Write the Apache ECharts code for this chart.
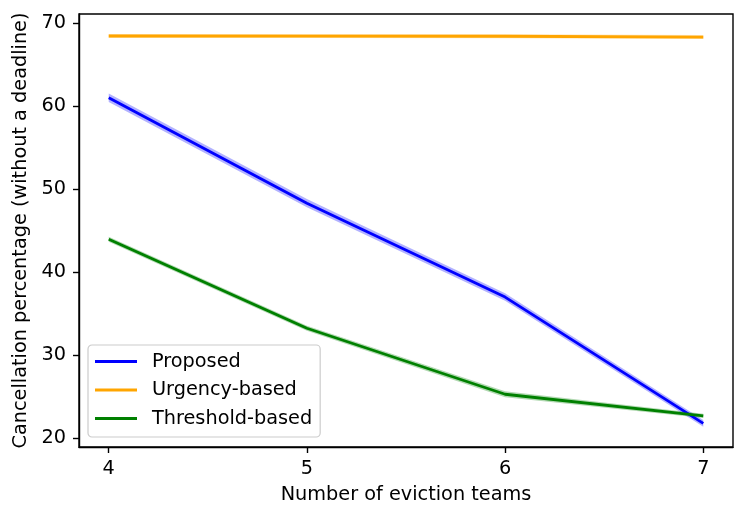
<!DOCTYPE html>
<html><head><meta charset="utf-8">
<script src="https://cdn.jsdelivr.net/npm/echarts@6/dist/echarts.min.js"></script>
<style>html,body{margin:0;padding:0;background:#fff}#c{width:747px;height:520px}</style>
</head><body><div id="c"></div>
<script>
const teams = [4, 5, 6, 7];
const proposed = [61.0, 48.3, 37.0, 21.8];
const proposedLow = [60.5, 47.8, 36.55, 21.4];
const proposedHigh = [61.5, 48.8, 37.45, 22.2];
const urgency = [68.43, 68.42, 68.40, 68.30];
const urgencyLow = [68.18, 68.18, 68.16, 68.06];
const urgencyHigh = [68.68, 68.66, 68.64, 68.54];
const threshold = [43.95, 33.25, 25.3, 22.7];
const thresholdLow = [43.65, 32.95, 24.95, 22.45];
const thresholdHigh = [44.25, 33.55, 25.65, 22.95];
const yTicks = [20, 30, 40, 50, 60, 70];
const xTicks = [4, 5, 6, 7];

const pairs = (ys) => teams.map((t, i) => [t, ys[i]]);

function band(name, lo, hi, color) {
  return {
    name: name, type: 'custom', silent: true, z: 1,
    data: [[teams[0], lo[0]]],
    renderItem: function (params, api) {
      const pts = [];
      for (let i = 0; i < teams.length; i++) pts.push(api.coord([teams[i], hi[i]]));
      for (let i = teams.length - 1; i >= 0; i--) pts.push(api.coord([teams[i], lo[i]]));
      return { type: 'polygon', shape: { points: pts }, style: { fill: color, opacity: 0.3 } };
    }
  };
}
function line(name, ys, color) {
  return { name: name, type: 'line', data: pairs(ys), symbol: 'none', color: color,
    lineStyle: { color: color, width: 2.8 }, z: 3 };
}

const font = 'DejaVu Sans';
const fs = 19.3;
const chart = echarts.init(document.getElementById('c'), null, { renderer: 'canvas' });
chart.setOption({
  animation: false,
  backgroundColor: '#fff',
  grid: { left: 79, top: 14, right: 14, bottom: 73, show: true, borderColor: '#000', borderWidth: 1.4, backgroundColor: 'transparent' },
  xAxis: {
    type: 'value', min: 3.85, max: 7.15,
    name: 'Number of eviction teams', nameLocation: 'middle', nameGap: 38,
    nameTextStyle: { fontFamily: font, fontSize: fs, color: '#000' },
    axisLine: { show: true, onZero: false, lineStyle: { color: '#000', width: 1.4 } },
    axisTick: { show: true, inside: false, length: 6, customValues: xTicks, lineStyle: { color: '#000', width: 1.4 } },
    axisLabel: { customValues: xTicks, fontFamily: font, fontSize: fs, color: '#000', margin: 12 },
    splitLine: { show: false }
  },
  yAxis: {
    type: 'value', min: 18.95, max: 71.08,
    name: 'Cancellation percentage (without a deadline)', nameLocation: 'middle', nameGap: 47,
    nameRotate: 90,
    nameTextStyle: { fontFamily: font, fontSize: fs, color: '#000' },
    axisLine: { show: true, onZero: false, lineStyle: { color: '#000', width: 1.4 } },
    axisTick: { show: true, inside: false, length: 6, customValues: yTicks, lineStyle: { color: '#000', width: 1.4 } },
    axisLabel: { customValues: yTicks, fontFamily: font, fontSize: fs, color: '#000', margin: 13 },
    splitLine: { show: false }
  },
  legend: {
    data: ['Proposed', 'Urgency-based', 'Threshold-based'],
    orient: 'vertical', left: 88, top: 345,
    icon: 'rect', itemWidth: 42, itemHeight: 3, itemGap: 7.5,
    padding: [6, 8, 8, 7],
    borderColor: '#cccccc', borderWidth: 1.2, borderRadius: 4,
    backgroundColor: 'rgba(255,255,255,0.8)',
    textStyle: { fontFamily: font, fontSize: fs, color: '#000', lineHeight: 21, padding: [0, 0, 0, 10] }
  },
  series: [
    band('p_band', proposedLow, proposedHigh, '#0000ff'),
    band('u_band', urgencyLow, urgencyHigh, '#ffa500'),
    band('t_band', thresholdLow, thresholdHigh, '#008000'),
    line('Proposed', proposed, '#0000ff'),
    line('Urgency-based', urgency, '#ffa500'),
    line('Threshold-based', threshold, '#008000')
  ]
});
</script></body></html>
